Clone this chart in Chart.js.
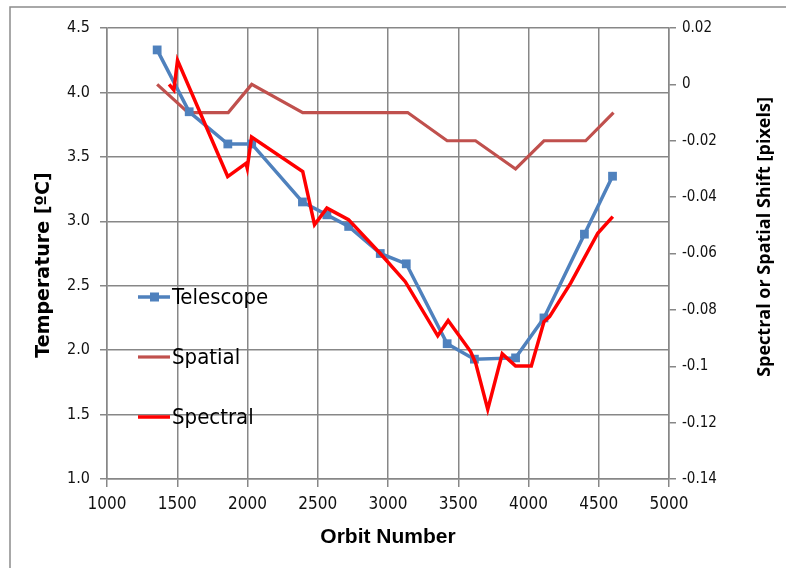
<!DOCTYPE html>
<html>
<head>
<meta charset="utf-8">
<title>Orbit Number vs Temperature and Shift</title>
<script src="https://cdn.jsdelivr.net/npm/chart.js@4"></script>
<style>
  html, body { margin: 0; padding: 0; background: #fff; }
  #wrap { position: relative; width: 786px; height: 568px; }
</style>
</head>
<body>
<div id="wrap"><canvas id="orbitChart" width="786" height="568"></canvas></div>
<script>
// ---- data ----
const telescopeOrbit = [1357, 1585, 1860, 2030, 2391, 2565, 2720, 2945, 3130, 3421, 3615, 3908, 4110, 4398, 4598];
const telescopeTemp  = [4.33, 3.85, 3.6, 3.6, 3.15, 3.05, 2.96, 2.75, 2.67, 2.05, 1.93, 1.94, 2.25, 2.9, 3.35];

const spatialOrbit = [1357, 1578, 1863, 2030, 2393, 3140, 3421, 3623, 3908, 4110, 4407, 4605];
const spatialShift = [0, -0.01, -0.01, 0, -0.01, -0.01, -0.02, -0.02, -0.03, -0.02, -0.02, -0.01];

const spectralOrbit = [1442, 1476, 1502, 1859, 1989, 1998, 2029, 2393, 2477, 2565, 2719, 2945, 3123, 3354, 3428,
                       3588, 3624, 3710, 3813, 3908, 4020, 4110, 4150, 4300, 4493, 4600];
const spectralShift = [0, -0.002, 0.0085, -0.0327, -0.028, -0.0297, -0.0187, -0.0309, -0.0498, -0.0439, -0.048,
                       -0.06, -0.07, -0.0892, -0.0838, -0.0948, -0.0989, -0.1153, -0.0956, -0.0999, -0.0999,
                       -0.0842, -0.0824, -0.0705, -0.0528, -0.0469];

const orbitTicks = [1000, 5000, 500];
const tempTicks  = [1.0, 4.5, 0.5];
const shiftTicks = [-0.14, 0.02, 0.02];

const seriesNames = ["Telescope", "Spatial", "Spectral"];

function toPoints(xs, ys) {
  return xs.map((x, i) => ({ x: x, y: ys[i] }));
}

const gridColor = "#878787";
const narrow = "'DejaVu Sans Condensed', 'Liberation Sans Narrow', sans-serif";

// titles, outer frame and the in-plot legend
const decorations = {
  id: "decorations",
  beforeDraw(chart) {
    const ctx = chart.ctx;
    ctx.save();
    ctx.strokeStyle = "#8c8c8c";
    ctx.lineWidth = 1.5;
    ctx.beginPath();
    ctx.moveTo(10, 568);
    ctx.lineTo(10, 7);
    ctx.lineTo(786, 7);
    ctx.stroke();
    ctx.restore();
  },
  afterDraw(chart) {
    const ctx = chart.ctx;
    ctx.save();
    ctx.fillStyle = "#000";
    ctx.textAlign = "center";
    ctx.textBaseline = "middle";

    ctx.font = "bold 21px 'Liberation Sans', Arial, sans-serif";
    ctx.fillText("Orbit Number", 388, 537);

    ctx.save();
    ctx.translate(44, 265);
    ctx.rotate(-Math.PI / 2);
    ctx.font = "bold 19px 'DejaVu Sans', sans-serif";
    ctx.fillText("Temperature [ºC]", 0, 0);
    ctx.restore();

    ctx.save();
    ctx.translate(765, 237);
    ctx.rotate(-Math.PI / 2);
    ctx.font = "bold 18px 'Open Sans', sans-serif";
    ctx.fillText("Spectral or Spatial Shift [pixels]", 0, 0);
    ctx.restore();

    // legend entries
    const rows = [297, 357, 417];
    ctx.textAlign = "left";
    ctx.font = "22px " + narrow;
    chart.data.datasets.forEach((ds, i) => {
      const y = rows[i];
      ctx.strokeStyle = ds.borderColor;
      ctx.lineWidth = ds.borderWidth;
      ctx.beginPath();
      ctx.moveTo(138, y);
      ctx.lineTo(170, y);
      ctx.stroke();
      if (ds.pointRadius > 0) {
        ctx.fillStyle = ds.borderColor;
        ctx.fillRect(150, y - 4.5, 9, 9);
      }
      ctx.fillStyle = "#000";
      ctx.fillText(ds.label, 172, y + 1);
    });
    ctx.restore();
  },
};

const ctx = document.getElementById("orbitChart").getContext("2d");
const orbitChart = new Chart(ctx, {
  type: "line",
  data: {
    datasets: [
      {
        label: seriesNames[0],
        data: toPoints(telescopeOrbit, telescopeTemp),
        yAxisID: "y",
        borderColor: "#4f81bd",
        backgroundColor: "#4f81bd",
        borderWidth: 3.5,
        pointStyle: "rect",
        pointRadius: 6.2,
        pointBorderWidth: 0,
        order: 1,
      },
      {
        label: seriesNames[1],
        data: toPoints(spatialOrbit, spatialShift),
        yAxisID: "y2",
        borderColor: "#c0504d",
        borderWidth: 3.2,
        pointRadius: 0,
        order: 2,
      },
      {
        label: seriesNames[2],
        data: toPoints(spectralOrbit, spectralShift),
        yAxisID: "y2",
        borderColor: "#ff0000",
        borderWidth: 3.5,
        pointRadius: 0,
        order: 0,
      },
    ],
  },
  options: {
    responsive: false,
    animation: false,
    tension: 0,
    layout: { padding: { top: 28, left: 0, right: 0, bottom: 0 } },
    plugins: { legend: { display: false }, tooltip: { enabled: false } },
    scales: {
      x: {
        type: "linear",
        min: orbitTicks[0],
        max: orbitTicks[1],
        afterFit: (s) => { s.height = 89; },
        grid: { color: gridColor, lineWidth: 1.5, tickLength: 8 },
        border: { color: gridColor, width: 1.5 },
        ticks: {
          stepSize: orbitTicks[2],
          color: "#111",
          padding: 7,
          font: { family: narrow, size: 17 },
          callback: (v) => String(v),
        },
      },
      y: {
        position: "left",
        min: tempTicks[0],
        max: tempTicks[1],
        afterFit: (s) => { s.width = 107; },
        grid: { color: gridColor, lineWidth: 1.5, tickLength: 7 },
        border: { color: gridColor, width: 1.5 },
        ticks: {
          stepSize: tempTicks[2],
          color: "#111",
          padding: 10,
          font: { family: narrow, size: 16 },
          callback: (v) => Number(v).toFixed(1),
        },
      },
      y2: {
        position: "right",
        min: shiftTicks[0],
        max: shiftTicks[1],
        afterFit: (s) => { s.width = 117; },
        grid: { drawOnChartArea: false, color: gridColor, lineWidth: 1.5, tickLength: 7 },
        border: { color: gridColor, width: 1.5 },
        ticks: {
          stepSize: shiftTicks[2],
          color: "#111",
          padding: 6,
          font: { family: narrow, size: 15 },
          callback: (v) => String(Number(Number(v).toFixed(2))),
        },
      },
    },
  },
  plugins: [decorations],
});
</script>
</body>
</html>
